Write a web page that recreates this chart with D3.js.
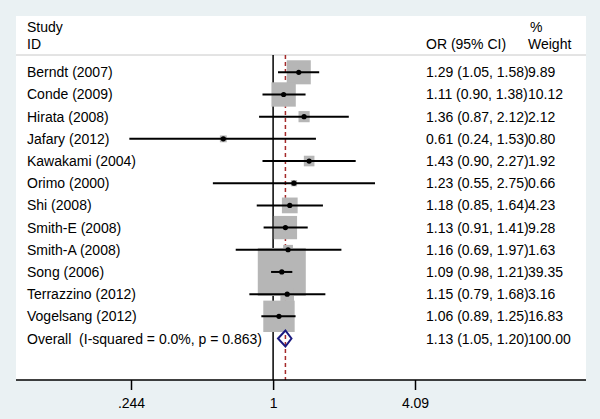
<!DOCTYPE html>
<html>
<head>
<meta charset="utf-8">
<script src="https://cdn.jsdelivr.net/npm/d3@7"></script>
<style>
  body { margin: 0; background: #eaf1f3; }
  text { font-family: "Liberation Sans", Arial, sans-serif; font-size: 14px; fill: #000; white-space: pre; }
</style>
</head>
<body>
<div id="chart"></div>
<script>
// study data
var studies = ["Berndt (2007)", "Conde (2009)", "Hirata (2008)", "Jafary (2012)", "Kawakami (2004)",
  "Orimo (2000)", "Shi (2008)", "Smith-E (2008)", "Smith-A (2008)", "Song (2006)",
  "Terrazzino (2012)", "Vogelsang (2012)"];
var or = [1.29, 1.11, 1.36, 0.61, 1.43, 1.23, 1.18, 1.13, 1.16, 1.09, 1.15, 1.06];
var lo = [1.05, 0.90, 0.87, 0.24, 0.90, 0.55, 0.85, 0.91, 0.69, 0.98, 0.79, 0.89];
var hi = [1.58, 1.38, 2.12, 1.53, 2.27, 2.75, 1.64, 1.41, 1.97, 1.21, 1.68, 1.25];
var weight = [9.89, 10.12, 2.12, 0.80, 1.92, 0.66, 4.23, 9.28, 1.63, 39.35, 3.16, 16.83];
var overall = { label: "Overall  (I-squared = 0.0%, p = 0.863)", or: 1.13, lo: 1.05, hi: 1.20, weight: 100 };
var ticks = [0.244, 1, 4.09];
var tickLabels = [".244", "1", "4.09"];

var width = 600, height = 419;
var panel = { left: 16, top: 16, right: 586, bottom: 380 };
var headerLine = 55;

var svg = d3.select("#chart").append("svg")
  .attr("width", width)
  .attr("height", height);

svg.append("rect")
  .attr("x", panel.left).attr("y", panel.top)
  .attr("width", panel.right - panel.left)
  .attr("height", panel.bottom - panel.top)
  .attr("fill", "#fff");

var x = d3.scaleLog().domain([0.244, 4.09]).range([131, 415]);

var rows = studies.concat([overall.label]);
var y = d3.scalePoint().domain(d3.range(rows.length)).range([72.3, 338.5]);

// box side proportional to sqrt(weight)
var side = d3.scaleSqrt().domain([0, 39.35]).range([0, 48]);
var fmt = d3.format(".2f");

// header
svg.append("line")
  .attr("x1", panel.left).attr("x2", panel.right)
  .attr("y1", headerLine).attr("y2", headerLine)
  .attr("stroke", "#c8c8c8").attr("stroke-width", 1);
svg.append("text").attr("x", 27).attr("y", 32).text("Study");
svg.append("text").attr("x", 27).attr("y", 49).text("ID");
svg.append("text").attr("x", 426).attr("y", 49).text("OR (95% CI)");
svg.append("text").attr("x", 530).attr("y", 32).text("%");
svg.append("text").attr("x", 528).attr("y", 49).text("Weight");

// reference lines
svg.append("line")
  .attr("x1", x(1)).attr("x2", x(1))
  .attr("y1", headerLine).attr("y2", panel.bottom)
  .attr("stroke", "#000").attr("stroke-width", 1.5);
svg.append("line")
  .attr("x1", x(overall.or)).attr("x2", x(overall.or))
  .attr("y1", headerLine).attr("y2", panel.bottom)
  .attr("stroke", "#a52a2a").attr("stroke-width", 1.5)
  .attr("stroke-dasharray", "4,3");

// boxes
svg.append("g").selectAll("rect")
  .data(studies)
  .join("rect")
  .attr("x", function (d, i) { return x(or[i]) - side(weight[i]) / 2; })
  .attr("y", function (d, i) { return y(i) - side(weight[i]) / 2; })
  .attr("width", function (d, i) { return side(weight[i]); })
  .attr("height", function (d, i) { return side(weight[i]); })
  .attr("fill", "#b6b6b6");

// confidence intervals
svg.append("g").selectAll("line")
  .data(studies)
  .join("line")
  .attr("x1", function (d, i) { return x(lo[i]); })
  .attr("x2", function (d, i) { return x(hi[i]); })
  .attr("y1", function (d, i) { return y(i); })
  .attr("y2", function (d, i) { return y(i); })
  .attr("stroke", "#000").attr("stroke-width", 2);

// point estimates
svg.append("g").selectAll("circle")
  .data(studies)
  .join("circle")
  .attr("cx", function (d, i) { return x(or[i]); })
  .attr("cy", function (d, i) { return y(i); })
  .attr("r", 2.6)
  .attr("fill", "#000");

// overall diamond
var oy = y(studies.length);
svg.append("path")
  .attr("d", "M" + x(overall.lo) + "," + oy +
    "L" + x(overall.or) + "," + (oy - 8) +
    "L" + x(overall.hi) + "," + oy +
    "L" + x(overall.or) + "," + (oy + 8) + "Z")
  .attr("fill", "none")
  .attr("stroke", "#1a1a80").attr("stroke-width", 2);

// labels
svg.append("g").selectAll("text")
  .data(rows)
  .join("text")
  .attr("x", 27)
  .attr("y", function (d, i) { return y(i) + 5; })
  .attr("xml:space", "preserve")
  .text(function (d) { return d; });

var ors = or.concat([overall.or]), los = lo.concat([overall.lo]), his = hi.concat([overall.hi]);
var ws = weight.concat([overall.weight]);
svg.append("g").selectAll("text")
  .data(rows)
  .join("text")
  .attr("x", 426)
  .attr("y", function (d, i) { return y(i) + 5; })
  .text(function (d, i) { return fmt(ors[i]) + " (" + fmt(los[i]) + ", " + fmt(his[i]) + ")"; });
svg.append("g").selectAll("text")
  .data(rows)
  .join("text")
  .attr("x", 528)
  .attr("y", function (d, i) { return y(i) + 5; })
  .text(function (d, i) { return fmt(ws[i]); });

// x axis
var axis = d3.axisBottom(x)
  .tickValues(ticks)
  .tickFormat(function (d, i) { return tickLabels[i]; })
  .tickSize(10)
  .tickSizeOuter(0);
var gx = svg.append("g")
  .attr("transform", "translate(0," + panel.bottom + ")")
  .call(axis);
gx.select(".domain").remove();
gx.selectAll(".tick line").attr("stroke", "#000").attr("stroke-width", 1.5);
gx.selectAll(".tick text")
  .attr("dy", 0).attr("y", 28)
  .style("font-family", "\"Liberation Sans\", Arial, sans-serif")
  .style("font-size", "14px");
svg.append("line")
  .attr("x1", panel.left).attr("x2", panel.right)
  .attr("y1", panel.bottom).attr("y2", panel.bottom)
  .attr("stroke", "#000").attr("stroke-width", 1.5);
</script>
</body>
</html>
